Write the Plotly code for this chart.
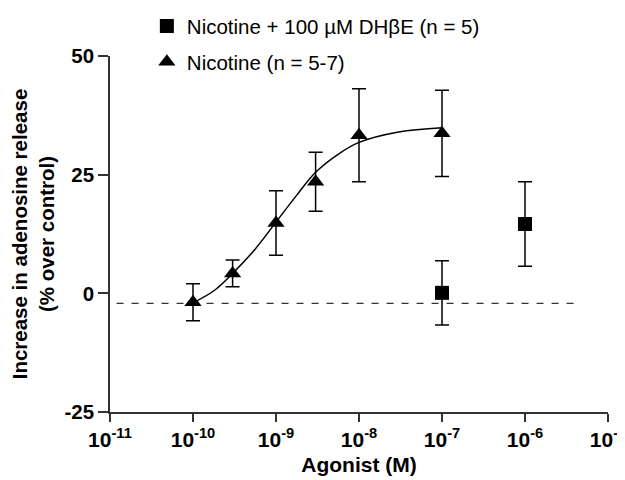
import plotly.graph_objects as go

# Nicotine (triangles)
nic_conc = [1e-10, 3e-10, 1e-9, 3e-9, 1e-8, 1e-7]
nic_mean = [-1.9, 4.2, 14.8, 23.5, 33.3, 33.7]
nic_sem = [3.9, 2.8, 6.8, 6.2, 9.8, 9.1]

# Nicotine + DHbetaE (squares)
dh_conc = [1e-7, 1e-6]
dh_mean = [0.1, 14.6]
dh_sem = [6.75, 8.9]

# Fitted curve, points
fit_conc = [1e-10, 1.8e-10, 3e-10, 5.6e-10, 1e-9, 1.8e-9, 3e-9, 5.6e-9, 1e-8, 3e-8, 1e-7]
fit_val = [-2.0, 0.6, 4.2, 9.3, 15.0, 20.8, 25.5, 29.3, 31.8, 34.0, 34.9]

# Baseline (dashed)
base_x = [1.2e-11, 4e-6]
base_y = [-2.1, -2.1]

x_ticks = [1e-11, 1e-10, 1e-9, 1e-8, 1e-7, 1e-6, 1e-5]
x_ticktext = ["10<sup>-11</sup>", "10<sup>-10</sup>", "10<sup>-9</sup>", "10<sup>-8</sup>",
              "10<sup>-7</sup>", "10<sup>-6</sup>", "10<sup>-5</sup>"]
y_ticks = [-25, 0, 25, 50]
y_ticktext = ["-25", "0", "25", "50"]

FONT = "Liberation Sans, Arial, sans-serif"

fig = go.Figure()

fig.add_trace(go.Scatter(x=base_x, y=base_y, mode="lines",
                         line=dict(color="black", width=1, dash="7px,8px"),
                         showlegend=False, hoverinfo="skip"))

fig.add_trace(go.Scatter(x=fit_conc, y=fit_val, mode="lines",
                         line=dict(color="black", width=1.5, shape="spline", smoothing=1.0),
                         showlegend=False, hoverinfo="skip"))

fig.add_trace(go.Scatter(x=dh_conc, y=dh_mean, mode="markers",
                         name="Nicotine + 100 µM DHβE (n = 5)",
                         legendgroup="a",
                         marker=dict(symbol="square", size=14, color="black"),
                         error_y=dict(type="data", array=dh_sem, visible=True,
                                      color="black", thickness=1.5, width=7)))

fig.add_trace(go.Scatter(x=nic_conc, y=nic_mean, mode="markers",
                         name="Nicotine (n = 5-7)",
                         legendgroup="b",
                         marker=dict(symbol="triangle-up", size=15, color="black"),
                         error_y=dict(type="data", array=nic_sem, visible=True,
                                      color="black", thickness=1.5, width=7)))

# page body has an 8px default margin, so the figure is 8px smaller each way
fig.update_layout(
    width=617, height=472,
    margin=dict(l=102, r=17, t=48, b=68, autoexpand=False),
    paper_bgcolor="white", plot_bgcolor="white",
    font=dict(family=FONT, color="black"),
    legend=dict(x=0.074, y=1.14, xanchor="left", yanchor="top",
                font=dict(size=20.5, family=FONT), tracegroupgap=6,
                bgcolor="rgba(0,0,0,0)", traceorder="grouped"),
    xaxis=dict(type="log", range=[-11, -5], tickvals=x_ticks, ticktext=x_ticktext,
               showgrid=False, zeroline=False, showline=True, linecolor="#333",
               linewidth=1.5, ticks="outside", ticklen=8, tickwidth=1.5, tickcolor="#333",
               automargin=False, ticklabeloverflow="allow",
               tickfont=dict(size=21, family=FONT, weight="bold"),
               title=dict(text="<b>Agonist (M)</b>", font=dict(size=21, family=FONT), standoff=7)),
    yaxis=dict(range=[-25, 50], tickvals=y_ticks, ticktext=y_ticktext,
               showgrid=False, zeroline=False, showline=True, linecolor="#333",
               linewidth=1.5, ticks="outside", ticklen=10, tickwidth=1.5, tickcolor="#333",
               automargin=False,
               tickfont=dict(size=20.5, family=FONT, weight="bold"),
               title=dict(text="<b>Increase in adenosine release<br>(% over control)</b>",
                          font=dict(size=20.5, family=FONT), standoff=10)),
)

fig.write_html("out.html")
